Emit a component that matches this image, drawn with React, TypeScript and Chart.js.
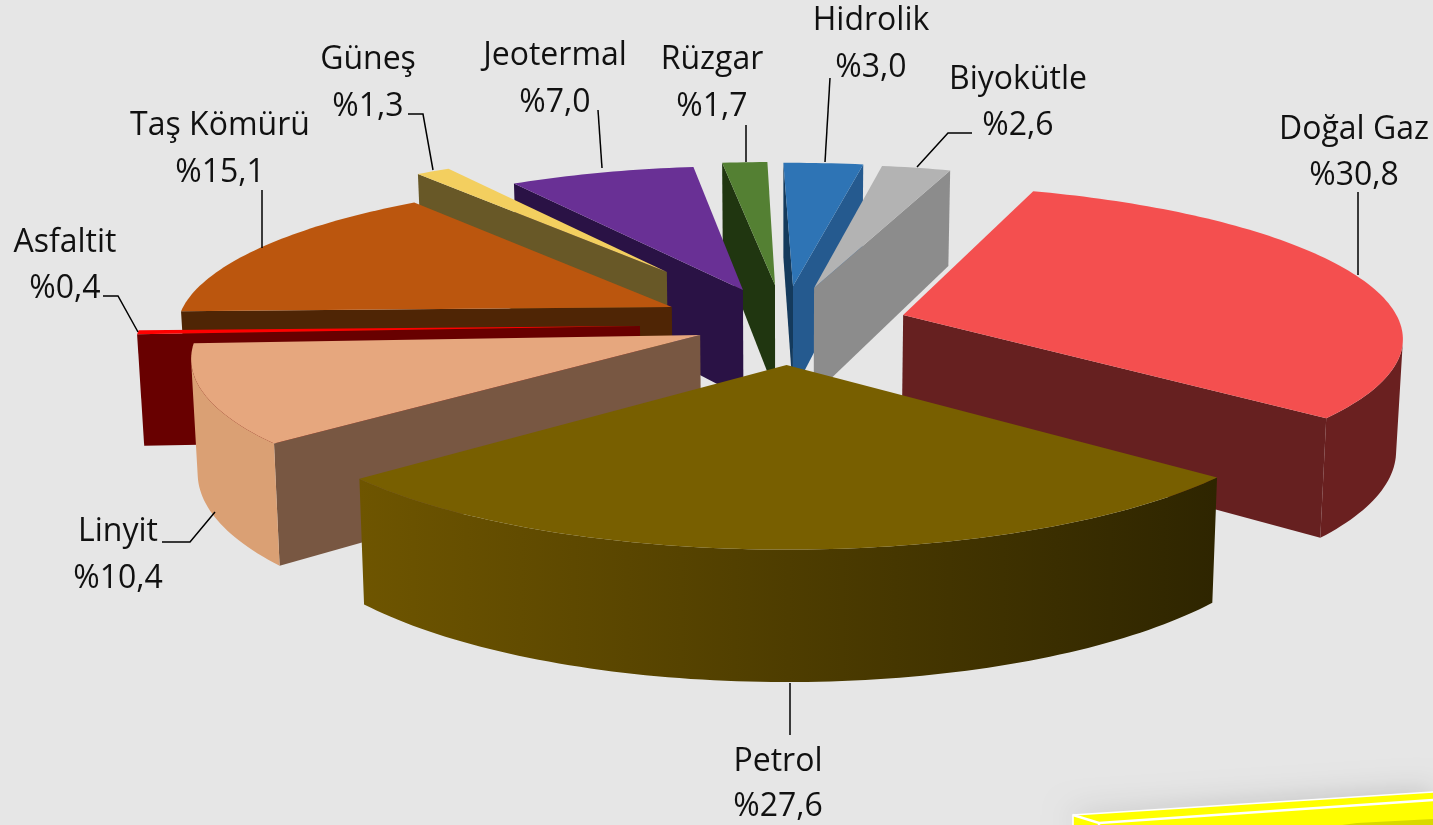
import React, { useEffect, useRef } from "react";
import { Chart, registerables } from "chart.js";

Chart.register(...registerables);

const categories = ["Doğal Gaz", "Petrol", "Linyit", "Asfaltit", "Taş Kömürü", "Güneş", "Jeotermal", "Rüzgar", "Hidrolik", "Biyokütle"];
const shares = [30.8, 27.6, 10.4, 0.4, 15.1, 1.3, 7.0, 1.7, 3.0, 2.6];

// styling per slice
const topColors = ["#f44f4f", "#785f00", "#e6a77e", "#ff0000", "#bb560e", "#f3cf5f", "#693095", "#548033", "#2e74b5", "#b3b3b3"];
const startWall = ["#662020", "#6e5500", "#785742", "#680000", "#4f2505", "#685827", "#2a1245", "#203610", "#143a5c", "#8c8c8c"];
const endWall = ["#662020", "#3a2e00", "#785742", "#680000", "#4f2505", "#685827", "#2a1245", "#203610", "#255a8f", "#8c8c8c"];
const rimLeft = ["#6a2020", "#6e5500", "#daa074", "#680000", "#4f2505", "#685827", "#2a1245", "#203610", "#255a8f", "#8c8c8c"];
const rimRight = ["#6a2020", "#2e2500", "#daa074", "#680000", "#4f2505", "#685827", "#2a1245", "#203610", "#255a8f", "#8c8c8c"];

// explosion of each slice, in radius units on the pie's own plane
const explodeX = [0.241, 0.003, -0.17, -0.293, -0.2325, -0.2505, -0.0877, -0.021, 0.0168, 0.0607];
const explodeY = [-0.2255, 0.102, -0.091, -0.151, -0.281, -0.532, -0.4, -0.437, -0.429, -0.415];
const radiusScale = [1.006, 1.002, 1.008, 1.008, 1.004, 1, 1, 1, 1, 1];

// label anchors: centre x, first baseline, second baseline
const labelX = [1354, 778, 118, 65, 220, 368, 555, 712, 871, 1018];
const labelY1 = [139, 771, 541, 252, 135, 69, 65, 69, 30, 89];
const labelY2 = [185, 816, 588, 298, 182, 116, 112, 116, 77, 135];
const leaders: number[][] = [
  [1358, 192, 1358, 275],
  [790, 683, 790, 735],
  [162, 542, 190, 542, 215, 512],
  [103, 296, 118, 296, 138, 332],
  [262, 190, 262, 248],
  [408, 114, 423, 114, 433, 170],
  [598, 110, 602, 168],
  [746, 125, 746, 162],
  [830, 78, 825, 162],
  [972, 133, 948, 133, 917, 167],
];

const view = { ox: 785, oy: 349, s0: 505, k: 0.133, t: 0.307, depth: 113, converge: 0.011 };

function project(X: number, Y: number, low: boolean) {
  const s = view.s0 / (1 - view.k * Y);
  let x = view.ox + s * X;
  let y = view.oy + view.t * s * Y;
  if (low) {
    x = view.ox + (x - view.ox) * (1 - view.converge);
    y += (view.depth * s) / view.s0;
  }
  return { x, y };
}

type P = { x: number; y: number };
function area(p: P[]) {
  let a = 0;
  p.forEach((q, i) => {
    const r = p[(i + 1) % p.length];
    a += q.x * r.y - r.x * q.y;
  });
  return a;
}
function fillPoly(ctx: CanvasRenderingContext2D, p: P[], fill: any) {
  ctx.beginPath();
  p.forEach((q, i) => (i ? ctx.lineTo(q.x, q.y) : ctx.moveTo(q.x, q.y)));
  ctx.closePath();
  ctx.fillStyle = fill;
  ctx.fill();
}

const pie3d = {
  id: "pie3d",
  beforeDatasetsDraw(chart: any) {
    const ctx: CanvasRenderingContext2D = chart.ctx;
    const arcs = chart.getDatasetMeta(0).data;
    const slices = arcs.map((arc: any, i: number) => {
      const a0 = arc.startAngle + Math.PI / 2;
      const a1 = arc.endAngle + Math.PI / 2;
      const steps = Math.max(3, Math.ceil((a1 - a0) / 0.02));
      const world: number[][] = [];
      for (let n = 0; n <= steps; n++) {
        const a = a0 + ((a1 - a0) * n) / steps;
        world.push([explodeX[i] + radiusScale[i] * Math.sin(a), explodeY[i] - radiusScale[i] * Math.cos(a)]);
      }
      return { i, world, order: -Math.cos((a0 + a1) / 2) };
    });
    slices.sort((a: any, b: any) => a.order - b.order);
    slices.forEach(({ i, world }: any) => {
      const apexT = project(explodeX[i], explodeY[i], false);
      const apexB = project(explodeX[i], explodeY[i], true);
      const topRim: P[] = world.map((w: number[]) => project(w[0], w[1], false));
      const lowRim: P[] = world.map((w: number[]) => project(w[0], w[1], true));
      const xs = topRim.map((p) => p.x);
      const grad = ctx.createLinearGradient(Math.min(...xs), 0, Math.max(...xs), 0);
      grad.addColorStop(0, rimLeft[i]);
      grad.addColorStop(1, rimRight[i]);
      const last = topRim.length - 1;
      const wallA = [apexT, topRim[0], lowRim[0], apexB];
      if (area(wallA) < 0) fillPoly(ctx, wallA, startWall[i]);
      const wallB = [topRim[last], apexT, apexB, lowRim[last]];
      if (area(wallB) < 0) fillPoly(ctx, wallB, endWall[i]);
      // the visible stretch of the outer wall, as one shape
      let from = -1;
      for (let n = 0; n <= last; n++) {
        const visible = n < last && area([topRim[n], topRim[n + 1], lowRim[n + 1], lowRim[n]]) < 0;
        if (visible && from < 0) from = n;
        if (!visible && from >= 0) {
          const up = topRim.slice(from, n + 1);
          const down = lowRim.slice(from, n + 1).reverse();
          fillPoly(ctx, [...up, ...down], grad);
          from = -1;
        }
      }
      fillPoly(ctx, [apexT, ...topRim], topColors[i]);
    });
    return false;
  },
  afterDraw(chart: any) {
    const ctx: CanvasRenderingContext2D = chart.ctx;
    ctx.save();
    ctx.strokeStyle = "#000000";
    ctx.lineWidth = 1.5;
    leaders.forEach((l) => {
      ctx.beginPath();
      for (let n = 0; n < l.length; n += 2) n ? ctx.lineTo(l[n], l[n + 1]) : ctx.moveTo(l[n], l[n + 1]);
      ctx.stroke();
    });
    ctx.fillStyle = "#111111";
    ctx.font = '32px "Open Sans"';
    ctx.textAlign = "center";
    ctx.textBaseline = "alphabetic";
    categories.forEach((c, i) => {
      ctx.fillText(c, labelX[i], labelY1[i]);
      ctx.fillText("%" + shares[i].toFixed(1).replace(".", ","), labelX[i], labelY2[i]);
    });
    // yellow box in the lower right corner
    ctx.save();
    ctx.shadowColor = "rgba(0,0,0,0.18)";
    ctx.shadowBlur = 30;
    ctx.fillStyle = "#ffff00";
    ctx.beginPath();
    ctx.moveTo(1073, 815);
    ctx.lineTo(1433, 792);
    ctx.lineTo(1433, 825);
    ctx.lineTo(1073, 825);
    ctx.closePath();
    ctx.fill();
    ctx.restore();
    ctx.fillStyle = "#d9d900";
    ctx.beginPath();
    ctx.moveTo(1342, 825);
    ctx.lineTo(1357, 823);
    ctx.lineTo(1433, 819);
    ctx.lineTo(1433, 825);
    ctx.closePath();
    ctx.fill();
    ctx.strokeStyle = "#ffffff";
    ctx.lineWidth = 1.6;
    ctx.beginPath();
    ctx.moveTo(1073, 825);
    ctx.lineTo(1073, 815);
    ctx.lineTo(1433, 792);
    ctx.stroke();
    ctx.lineWidth = 2.4;
    ctx.beginPath();
    ctx.moveTo(1073, 815);
    ctx.lineTo(1099, 823);
    ctx.lineTo(1433, 800);
    ctx.moveTo(1099, 823);
    ctx.lineTo(1099, 825);
    ctx.stroke();
    ctx.restore();
  },
};

const background = {
  id: "bg",
  beforeDraw(chart: any) {
    chart.ctx.save();
    chart.ctx.fillStyle = "#e6e6e6";
    chart.ctx.fillRect(0, 0, chart.width, chart.height);
    chart.ctx.restore();
  },
};

export default function App() {
  const ref = useRef<HTMLCanvasElement>(null);
  useEffect(() => {
    const chart = new Chart(ref.current as HTMLCanvasElement, {
      type: "pie",
      data: { labels: categories, datasets: [{ data: shares, backgroundColor: topColors, borderWidth: 0 }] },
      options: {
        animation: false,
        responsive: false,
        rotation: 19,
        plugins: { legend: { display: false }, tooltip: { enabled: false }, title: { display: false } },
      },
      plugins: [background, pie3d],
    } as any);
    return () => chart.destroy();
  }, []);
  return (
    <div style={{ position: "absolute", left: 0, top: 0, width: 1433, height: 825, overflow: "hidden" }}>
      <canvas ref={ref} width={1433} height={825} style={{ display: "block" }} />
    </div>
  );
}
